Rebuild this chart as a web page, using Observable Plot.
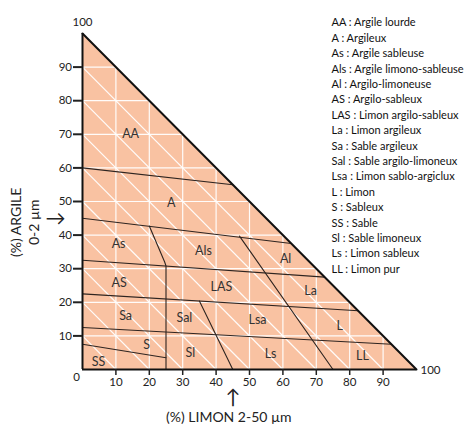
<!DOCTYPE html>
<html>
<head>
<meta charset="utf-8">
<script src="https://cdn.jsdelivr.net/npm/d3@7"></script>
<script src="https://cdn.jsdelivr.net/npm/@observablehq/plot@0.6"></script>
<style>
  html, body { margin: 0; padding: 0; background: #fff; }
  #chart svg { display: block; }
</style>
</head>
<body>
<div id="chart"></div>
<script>
// ---- data ----
const limonTicks = [10, 20, 30, 40, 50, 60, 70, 80, 90];
const argileTicks = [10, 20, 30, 40, 50, 60, 70, 80, 90];
const gridSteps = [10, 20, 30, 40, 50, 60, 70, 80, 90];

// triangle corners (limon %, argile %)
const corners = [
  {limon: 0, argile: 100},
  {limon: 100, argile: 0}
];

// class boundaries as polylines [limon, argile]
const boundaries = [
  {id: "b1", pts: [[0, 60], [45, 55]]},
  {id: "b2", pts: [[0, 45], [62.5, 37.5]]},
  {id: "b3", pts: [[0, 32.5], [72.5, 27.5]]},
  {id: "b4", pts: [[0, 22.5], [82.5, 17.5]]},
  {id: "b5", pts: [[0, 12.5], [92.5, 7.5]]},
  {id: "b6", pts: [[0, 7.5], [25, 3.5]]},
  {id: "b7", pts: [[20, 42.7], [24.6, 32], [25, 30.8], [25, 0]]},
  {id: "b8", pts: [[35, 20.4], [45, 0]]},
  {id: "b9", pts: [[47, 39.7], [75, 0]]}
];

// class labels placed in the triangle
const classCodes = ["AA", "A", "As", "Als", "Al", "AS", "LAS", "La", "Sa", "Sal", "Lsa", "L", "S", "Sl", "Ls", "LL", "SS"];
const classLimon = [14.4, 26.6, 10.8, 36.2, 60.8, 11, 41.6, 68.3, 12.9, 30.5, 52.4, 77, 19.2, 32.3, 56.3, 83.8, 4.8];
const classArgile = [70, 49.7, 37.5, 35.4, 33, 25.6, 24.7, 23.5, 15.8, 15.2, 14.6, 12.8, 7.4, 4.8, 4.5, 3.9, 2.1];

// legend
const legendCodes = ["AA", "A", "As", "Als", "Al", "AS", "LAS", "La", "Sa", "Sal", "Lsa", "L", "S", "SS", "Sl", "Ls", "LL"];
const legendNames = ["Argile lourde", "Argileux", "Argile sableuse", "Argile limono-sableuse", "Argilo-limoneuse",
  "Argilo-sableux", "Limon argilo-sableux", "Limon argileux", "Sable argileux", "Sable argilo-limoneux",
  "Limon sablo-argiclux", "Limon", "Sableux", "Sable", "Sable limoneux", "Limon sableux", "Limon pur"];

const xTitle = "(%) LIMON 2-50 µm";
const yTitle = "(%) ARGILE\n0-2 µm";

// ---- derived tables ----
const boundaryRows = boundaries.flatMap(b => b.pts.map(p => ({id: b.id, limon: p[0], argile: p[1]})));
const classRows = classCodes.map((c, i) => ({code: c, limon: classLimon[i], argile: classArgile[i]}));
const legendText = legendCodes.map((c, i) => `${c} : ${legendNames[i]}`).join("\n");

const FONT = "Lato, 'Open Sans', sans-serif";
const FILL = "#f9c2a2";

const chart = Plot.plot({
  width: 473,
  height: 426,
  marginLeft: 82,
  marginRight: 57,
  marginTop: 33,
  marginBottom: 57,
  style: {fontFamily: FONT, background: "#fff", overflow: "visible"},
  x: {domain: [0, 100]},
  y: {domain: [0, 100]},
  marks: [
    Plot.areaY(corners, {x: "limon", y: "argile", fill: FILL}),
    // white grid lines
    Plot.link(gridSteps, {x1: d => d, y1: () => 0, x2: d => d, y2: d => 100 - d, stroke: "#fff", strokeWidth: 1.2, strokeOpacity: 0.95}),
    Plot.link(gridSteps, {x1: () => 0, y1: d => d, x2: d => 100 - d, y2: d => d, stroke: "#fff", strokeWidth: 1.2, strokeOpacity: 0.95}),
    Plot.link(gridSteps, {x1: () => 0, y1: d => d, x2: d => d, y2: () => 0, stroke: "#fff", strokeWidth: 1.2, strokeOpacity: 0.95}),
    // class boundaries
    Plot.line(boundaryRows, {x: "limon", y: "argile", z: "id", stroke: "#2e2420", strokeWidth: 1.1}),
    // triangle edges
    Plot.line(corners, {x: "limon", y: "argile", stroke: "#111", strokeWidth: 2}),
    Plot.ruleX([0], {y1: 0, y2: 100, stroke: "#111", strokeWidth: 2}),
    Plot.ruleY([0], {x1: 0, x2: 100, stroke: "#111", strokeWidth: 2}),
    // axes
    Plot.axisX({ticks: limonTicks, tickSize: 6, tickPadding: 2, fontSize: 11.5, label: null, strokeWidth: 1.5, color: "#222"}),
    Plot.axisY({ticks: argileTicks, tickSize: 9, tickPadding: 1.5, fontSize: 11.5, label: null, strokeWidth: 2, color: "#222"}),
    Plot.text([{limon: 0, argile: 0, t: "0"}], {x: "limon", y: "argile", text: "t", dx: -6, dy: 8, fontSize: 11.5, fill: "#222"}),
    Plot.text([{limon: 0, argile: 100, t: "100"}], {x: "limon", y: "argile", text: "t", dy: -11, fontSize: 11.5, fill: "#222"}),
    Plot.text([{limon: 100, argile: 0, t: "100"}], {x: "limon", y: "argile", text: "t", dx: 14, dy: 1, fontSize: 11.5, fill: "#222"}),
    // class labels
    Plot.text(classRows, {x: "limon", y: "argile", text: "code", fontSize: 12.5, fill: "#333"}),
    // axis titles with arrows
    Plot.text([{limon: 0, argile: 45}], {x: "limon", y: "argile", text: () => "→", dx: -27, fontSize: 20, fill: "#222"}),
    Plot.text([{limon: 0, argile: 45}], {x: "limon", y: "argile", text: () => yTitle, rotate: -90, dx: -58, dy: 4, fontSize: 14, lineHeight: 1.25, fill: "#222"}),
    Plot.text([{limon: 45, argile: 0}], {x: "limon", y: "argile", text: () => "↑", dy: 28, fontSize: 20, fill: "#222"}),
    Plot.text([{limon: 45, argile: 0}], {x: "limon", y: "argile", text: () => xTitle, dx: -4, dy: 48, fontSize: 14, fill: "#222"}),
    // legend
    Plot.text([legendText], {frameAnchor: "top-left", dx: 249, dy: -18, lineAnchor: "top", textAnchor: "start", fontSize: 11, lineHeight: 1.4, fill: "#111"})
  ]
});
document.getElementById("chart").appendChild(chart);
</script>
</body>
</html>
